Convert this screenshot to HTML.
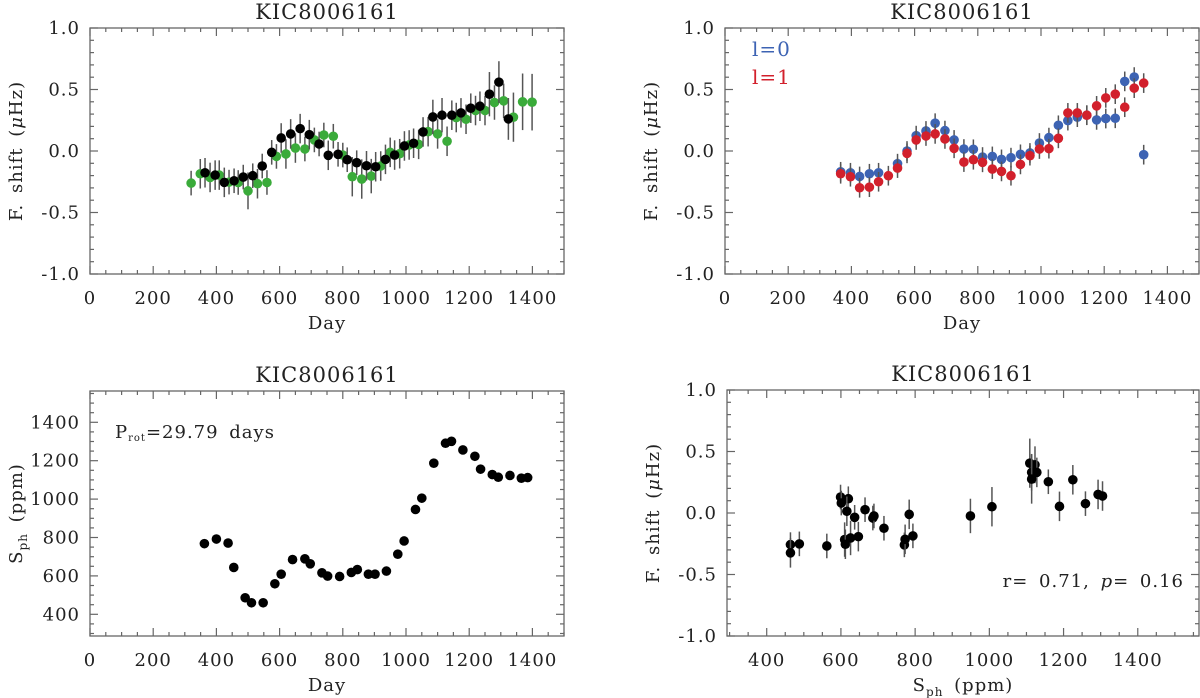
<!DOCTYPE html>
<html><head><meta charset="utf-8"><style>
html,body{margin:0;padding:0;background:#fff;}
svg{display:block;font-family:"DejaVu Serif","Liberation Serif",serif;}
text{letter-spacing:1px;word-spacing:4px;}
</style></head><body>
<svg id="fig" width="1200" height="698" viewBox="0 0 1200 698" xmlns="http://www.w3.org/2000/svg"></svg>
<script>
// Panel A (top-left)
const aBlackDay=[364,396,425,456,485,515,545,575,605,635,665,694,725,754,785,814,844,875,904,935,964,995,1024,1054,1085,1114,1145,1174,1205,1234,1264,1294,1324];
const aBlackVal=[-0.177,-0.196,-0.255,-0.242,-0.212,-0.201,-0.122,-0.011,0.106,0.139,0.182,0.133,0.057,-0.035,-0.027,-0.071,-0.095,-0.120,-0.128,-0.068,-0.033,0.041,0.063,0.155,0.277,0.291,0.291,0.310,0.348,0.364,0.462,0.560,0.261];
const aBlackErr=[0.12,0.12,0.12,0.1,0.1,0.1,0.1,0.1,0.12,0.12,0.12,0.12,0.1,0.12,0.1,0.1,0.1,0.12,0.12,0.12,0.12,0.12,0.12,0.12,0.14,0.14,0.12,0.12,0.12,0.12,0.18,0.17,0.17];
const aGreenDay=[320,349,380,409,440,469,500,530,560,590,620,650,680,710,740,770,800,830,860,890,920,950,980,1010,1040,1070,1100,1130,1159,1190,1220,1250,1280,1309,1340,1369,1399];
const aGreenVal=[-0.261,-0.185,-0.215,-0.196,-0.253,-0.256,-0.324,-0.266,-0.256,-0.044,-0.024,0.024,0.016,0.090,0.130,0.120,-0.033,-0.209,-0.228,-0.204,-0.122,-0.011,-0.022,0.049,0.054,0.157,0.139,0.079,0.272,0.258,0.329,0.329,0.394,0.408,0.275,0.400,0.397];
const aGreenErr=[0.1,0.12,0.12,0.12,0.1,0.1,0.15,0.12,0.1,0.1,0.12,0.12,0.1,0.1,0.1,0.1,0.1,0.16,0.16,0.14,0.12,0.12,0.12,0.12,0.12,0.12,0.12,0.12,0.12,0.12,0.12,0.12,0.14,0.14,0.2,0.23,0.23];
// Panel B (top-right)
const bBlueDay=[366,397,426,457,486,546,576,605,636,665,696,725,756,786,815,846,875,905,935,965,995,1025,1055,1085,1115,1145,1176,1205,1235,1265,1295,1325];
const bBlueVal=[-0.169,-0.177,-0.207,-0.185,-0.177,-0.103,0.0,0.125,0.163,0.226,0.166,0.090,0.016,0.014,-0.049,-0.044,-0.068,-0.054,-0.027,-0.016,0.065,0.109,0.209,0.247,0.275,0.291,0.253,0.264,0.266,0.566,0.601,-0.030];
const bRedDay=[366,397,426,457,486,517,546,576,605,636,665,696,725,756,786,815,846,875,905,935,965,995,1025,1055,1085,1115,1145,1176,1205,1235,1265,1295,1325];
const bRedVal=[-0.185,-0.209,-0.299,-0.294,-0.250,-0.201,-0.139,-0.019,0.090,0.122,0.139,0.098,0.022,-0.090,-0.071,-0.092,-0.147,-0.166,-0.201,-0.109,-0.038,0.016,0.019,0.103,0.310,0.310,0.291,0.367,0.432,0.462,0.356,0.511,0.552];
const bErr=0.08;
// Panel C (bottom-left)
const cDay=[362,400,437,455,491,511,548,585,605,641,680,697,734,752,790,827,846,881,902,938,974,994,1030,1050,1088,1125,1144,1180,1218,1236,1273,1292,1329,1365,1385];
const cSph=[768,792,771,644,486,460,460,559,609,685,689,663,616,599,597,618,633,609,609,625,713,782,946,1005,1187,1291,1301,1256,1223,1156,1128,1114,1123,1109,1112];
// Panel D (bottom-right)
const dSph=[464,464,488,562,599,601,620,616,637,610,612,626,647,665,686,689,716,771,773,784,794,949,1007,1109,1123,1114,1128,1114,1159,1225,1189,1259,1293,1305];
const dVal=[-0.257,-0.324,-0.251,-0.268,0.130,0.081,0.116,0.014,-0.035,-0.216,-0.254,-0.203,-0.192,0.027,-0.041,-0.024,-0.124,-0.259,-0.214,-0.011,-0.186,-0.024,0.051,0.405,0.392,0.330,0.330,0.276,0.254,0.270,0.054,0.076,0.151,0.138];
const dErr=[0.1,0.12,0.1,0.1,0.1,0.1,0.1,0.12,0.1,0.14,0.12,0.14,0.12,0.1,0.1,0.1,0.1,0.1,0.12,0.12,0.1,0.14,0.16,0.2,0.15,0.15,0.12,0.2,0.1,0.12,0.12,0.1,0.12,0.12];
const xTicksDay=[0,200,400,600,800,1000,1200,1400];
const yTicksShift=[-1.0,-0.5,0.0,0.5,1.0];
const yTicksSph=[400,600,800,1000,1200,1400];
const xTicksSph=[400,600,800,1000,1200,1400];

const NS="http://www.w3.org/2000/svg";
const svg=document.getElementById('fig');
function mk(tag,attrs,parent){const e=document.createElementNS(NS,tag);for(const k in attrs)e.setAttribute(k,attrs[k]);(parent||svg).appendChild(e);return e;}
function fmt(v){return Math.abs(v)<1e-9?'0.0':v.toFixed(1);}

function panel(o){
  const g=mk('g',{});
  
  
  const sx=v=>o.x0+(v-o.xd[0])/(o.xd[1]-o.xd[0])*(o.x1-o.x0);
  const sy=v=>o.y1-(v-o.yd[0])/(o.yd[1]-o.yd[0])*(o.y1-o.y0);
  const box=mk('rect',{x:o.x0,y:o.y0,width:o.x1-o.x0,height:o.y1-o.y0,fill:'none',stroke:'#666','stroke-width':1.3},g);
  
  
  for(let v=Math.ceil(o.xd[0]/o.xmin)*o.xmin; v<=o.xd[1]+1e-6; v+=o.xmin){
    const X=sx(v);const major=Math.abs(v/o.xmaj-Math.round(v/o.xmaj))<1e-6;const L=major?8:4;
    mk('line',{x1:X,x2:X,y1:o.y1,y2:o.y1-L,stroke:'#666','stroke-width':1.2},g);
    mk('line',{x1:X,x2:X,y1:o.y0,y2:o.y0+L,stroke:'#666','stroke-width':1.2},g);
  }
  for(let v=Math.ceil(o.yd[0]/o.ymin-1e-6)*o.ymin; v<=o.yd[1]+1e-6; v+=o.ymin){
    const Y=sy(v);const major=Math.abs(v/o.ymaj-Math.round(v/o.ymaj))<1e-6;const L=major?8:4;
    mk('line',{x1:o.x0,x2:o.x0+L,y1:Y,y2:Y,stroke:'#666','stroke-width':1.2},g);
    mk('line',{x1:o.x1,x2:o.x1-L,y1:Y,y2:Y,stroke:'#666','stroke-width':1.2},g);
  }
  o.xticks.forEach(v=>{const t=mk('text',{x:sx(v),y:o.y1+30,'text-anchor':'middle','font-size':18,fill:'#222'},g);t.textContent=String(v);
    });
  o.yticks.forEach(v=>{const t=mk('text',{x:o.x0-10,y:sy(v)+6,'text-anchor':'end','font-size':18,fill:'#222'},g);t.textContent=o.yfmt(v);
    });
  const ti=mk('text',{x:(o.x0+o.x1)/2,y:o.y0-9,'text-anchor':'middle','font-size':21,fill:'#222'},g);ti.textContent='KIC8006161';
  
  const xl=mk('text',{x:(o.x0+o.x1)/2,y:o.y1+55,'text-anchor':'middle','font-size':18,fill:'#222'},g);
  
  xl.innerHTML=o.xlabel;
  const yc=(o.y0+o.y1)/2;
  const yl=mk('text',{x:o.x0-68,y:yc,'text-anchor':'middle','font-size':18,fill:'#222',transform:`rotate(-90 ${o.x0-68} ${yc})`},g);
  
  yl.innerHTML=o.ylabel;
  o.series.forEach(s=>{
    const sg=mk('g',{},g);
    
    s.x.forEach((xv,i)=>{
      const e=s.err?(Array.isArray(s.err)?s.err[i]:s.err):0;
      if(e){mk('line',{x1:sx(xv),x2:sx(xv),y1:sy(s.y[i]-e),y2:sy(s.y[i]+e),stroke:'#555','stroke-width':1.5},sg);}
      if(s.xerr){mk('line',{x1:sx(xv-s.xerr),x2:sx(xv+s.xerr),y1:sy(s.y[i]),y2:sy(s.y[i]),stroke:'#333','stroke-width':1.5},sg);}
      const c=mk('circle',{cx:sx(xv),cy:sy(s.y[i]),r:4.8,fill:s.color},sg);
      
    });
  });
  return {g,sx,sy};
}
const shiftLbl='F. shift (<tspan font-style="italic">μ</tspan>Hz)';
panel({name:'panel-fshift-vs-day',x0:90,x1:564,y0:28,y1:274,xd:[0,1500],yd:[-1,1],xmaj:200,xmin:50,ymaj:0.5,ymin:0.1,
  xticks:xTicksDay,yticks:yTicksShift,yfmt:fmt,xlabel:'Day',ylabel:shiftLbl,
  series:[{name:'series-green',x:aGreenDay,y:aGreenVal,err:aGreenErr,color:'#3aab3a'},{name:'series-black',x:aBlackDay,y:aBlackVal,err:aBlackErr,color:'#000'}]});
panel({name:'panel-fshift-by-degree',x0:725,x1:1199,y0:28,y1:274,xd:[0,1500],yd:[-1,1],xmaj:200,xmin:50,ymaj:0.5,ymin:0.1,
  xticks:xTicksDay,yticks:yTicksShift,yfmt:fmt,xlabel:'Day',ylabel:shiftLbl,
  series:[{name:'series-l0',x:bBlueDay,y:bBlueVal,err:bErr,color:'#3d63b3'},{name:'series-l1',x:bRedDay,y:bRedVal,err:bErr,color:'#d2202c'}]});
panel({name:'panel-sph-vs-day',x0:90,x1:564,y0:391,y1:636,xd:[0,1500],yd:[287,1563],xmaj:200,xmin:50,ymaj:200,ymin:50,
  xticks:xTicksDay,yticks:yTicksSph,yfmt:v=>String(v),xlabel:'Day',ylabel:'S<tspan font-size="12" dy="5">ph</tspan><tspan dy="-5"> (ppm)</tspan>',
  series:[{name:'series-sph',x:cDay,y:cSph,color:'#000'}]});
panel({name:'panel-fshift-vs-sph',x0:727,x1:1199,y0:390,y1:636,xd:[293,1565],yd:[-1,1],xmaj:200,xmin:50,ymaj:0.5,ymin:0.1,
  xticks:xTicksSph,yticks:yTicksShift,yfmt:fmt,xlabel:'S<tspan font-size="12" dy="5">ph</tspan><tspan dy="-5"> (ppm)</tspan>',ylabel:shiftLbl,
  series:[{name:'series-correlation',x:dSph,y:dVal,err:dErr,xerr:8,color:'#000'}]});

const l0=mk('text',{x:752,y:56,'font-size':20,fill:'#3d63b3'});l0.textContent='l=0';

const l1=mk('text',{x:752,y:84,'font-size':20,fill:'#d2202c'});l1.textContent='l=1';

const pr=mk('text',{x:115,y:438,'font-size':18,fill:'#222'});
pr.innerHTML='P<tspan font-size="10" dy="3">rot</tspan><tspan dy="-3">=29.79 days</tspan>';

const rp=mk('text',{x:1184,y:587,'text-anchor':'end','font-size':18,fill:'#222'});
rp.innerHTML='r= 0.71, <tspan font-style="italic">p</tspan>= 0.16';

</script>
</body></html>
